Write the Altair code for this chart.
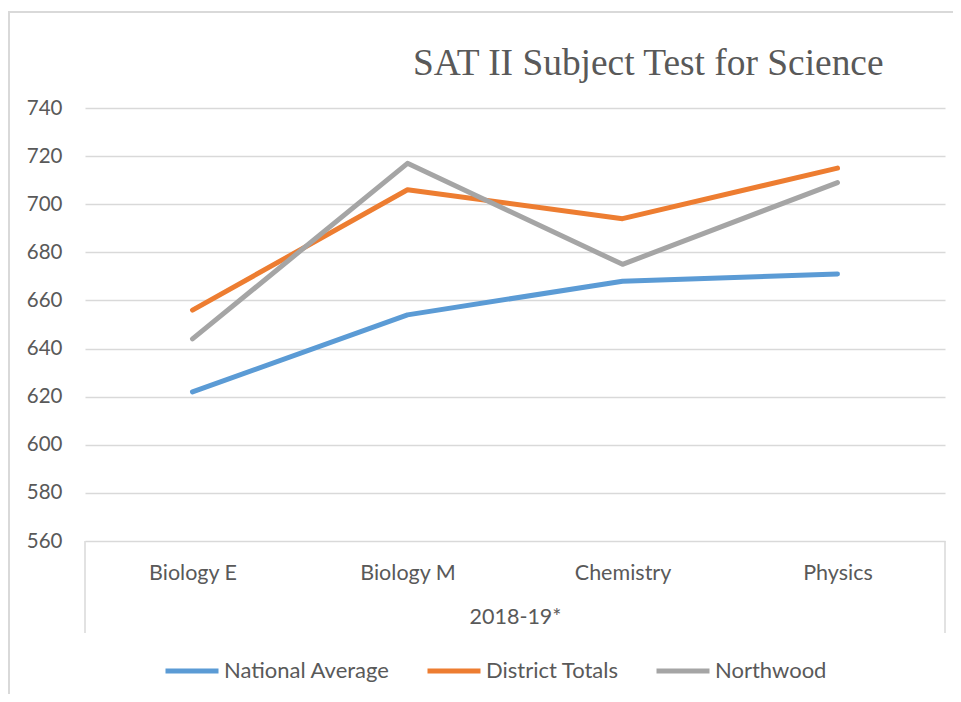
import altair as alt
import pandas as pd

subjects = ["Biology E", "Biology M", "Chemistry", "Physics"]
series = ["National Average", "District Totals", "Northwood"]
national = [622, 654, 668, 671]
district = [656, 706, 694, 715]
northwood = [644, 717, 675, 709]
colors = ["#5B9BD5", "#ED7D31", "#A5A5A5"]
y_ticks = [560, 580, 600, 620, 640, 660, 680, 700, 720, 740]

rows = []
for name, vals in zip(series, [national, district, northwood]):
    for s, v in zip(subjects, vals):
        rows.append({"Subject": s, "Series": name, "Score": v})
df = pd.DataFrame(rows)

W, H = 860, 433
FONT = "Lato"
GRAY = "#595959"
LIGHT = "#d9d9d9"

lines = alt.Chart(df).mark_line(strokeWidth=5, strokeCap="round", strokeJoin="round").encode(
    x=alt.X("Subject:N", sort=subjects,
            scale=alt.Scale(type="point", padding=0.5),
            axis=alt.Axis(title="2018-19*", labelAngle=0, ticks=False, domain=False, grid=False,
                          labelPadding=21, titlePadding=23, labelFontSize=21.5, titleFontSize=21.5,
                          titleFontWeight="normal", labelColor=GRAY, titleColor=GRAY,
                          labelFont=FONT, titleFont=FONT)),
    y=alt.Y("Score:Q", scale=alt.Scale(domain=[560, 740], nice=False, zero=False),
            axis=alt.Axis(title=None, values=y_ticks, ticks=False, domain=False,
                          labelPadding=23, labelFontSize=20.5, labelColor=GRAY, labelFont=FONT,
                          gridColor=LIGHT, gridWidth=1.3)),
    color=alt.Color("Series:N", sort=series,
                    scale=alt.Scale(domain=series, range=colors),
                    legend=alt.Legend(title=None, orient="none", direction="horizontal",
                                      legendX=78, legendY=534, symbolType="stroke",
                                      symbolSize=2809, symbolStrokeWidth=5,
                                      labelFontSize=22, labelFont=FONT, labelColor=GRAY,
                                      labelLimit=400, labelOffset=3, columnPadding=27, padding=0)),
)

dummy = pd.DataFrame({"a": [0]})
left_sep = alt.Chart(dummy).mark_rule(color=LIGHT, strokeWidth=1.5).encode(
    x=alt.value(0), y=alt.value(H), y2=alt.value(H + 92))
right_sep = alt.Chart(dummy).mark_rule(color=LIGHT, strokeWidth=1.5).encode(
    x=alt.value(W), y=alt.value(H), y2=alt.value(H + 92))
border = alt.Chart(dummy).mark_rect(fillOpacity=0, stroke=LIGHT, strokeWidth=2).encode(
    x=alt.value(-76), y=alt.value(-96), x2=alt.value(1000), y2=alt.value(800))

chart = alt.layer(border, left_sep, right_sep, lines).properties(
    width=W, height=H,
    autosize=alt.AutoSizeParams(type="none"),
    padding={"left": 77, "top": 100, "right": 8, "bottom": 153},
    title=alt.TitleParams("SAT II Subject Test for Science", anchor="start", frame="group",
                          dx=328, offset=-101, baseline="alphabetic", font="Liberation Serif",
                          fontSize=37.4, fontWeight="normal", color=GRAY),
).configure_view(stroke=None)

chart.save("out.html", embed_options={"renderer": "svg", "actions": False})
